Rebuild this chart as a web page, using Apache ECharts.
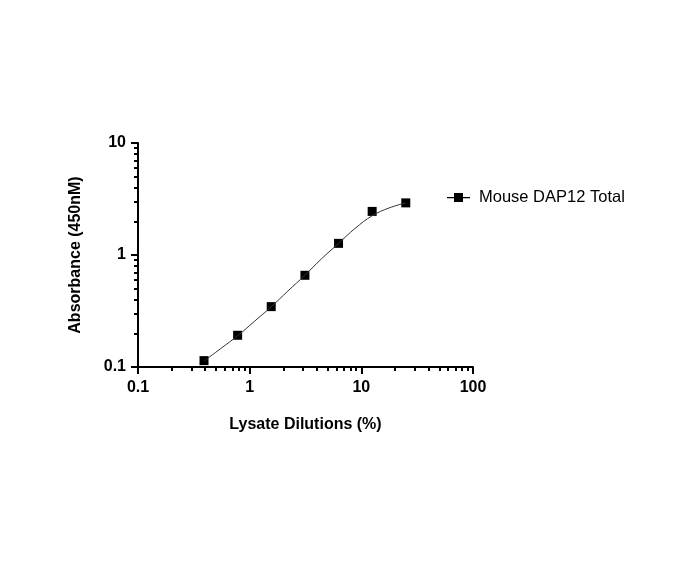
<!DOCTYPE html>
<html><head><meta charset="utf-8">
<script src="https://cdn.jsdelivr.net/npm/echarts@6/dist/echarts.min.js"></script>
<style>html,body{margin:0;padding:0;background:#fff}#c{width:696px;height:564px}</style>
</head><body><div id="c"></div>
<script>
// measured points
const dilutions = [0.39, 0.78, 1.56, 3.125, 6.25, 12.5, 25];
const absorbance = [0.114, 0.192, 0.346, 0.659, 1.27, 2.45, 2.92];
// fitted curve
const fitX = [0.39, 0.55, 0.78, 1.1, 1.56, 2.2, 3.125, 4.4, 6.25, 8.8, 12.5, 17.7, 25];
const fitY = [0.113, 0.146, 0.19, 0.255, 0.345, 0.477, 0.66, 0.925, 1.27, 1.73, 2.24, 2.63, 2.92];
const seriesName = 'Mouse DAP12 Total';
const xMinorTicks = [0.2,0.3,0.4,0.5,0.6,0.7,0.8,0.9,2,3,4,5,6,7,8,9,20,30,40,50,60,70,80,90];
const yMinorTicks = [0.2,0.3,0.4,0.5,0.6,0.7,0.8,0.9,2,3,4,5,6,7,8,9];

const font = 'Liberation Sans, Arial, sans-serif';
const chart = echarts.init(document.getElementById('c'));
const baseAxis = {type: 'log', logBase: 10, splitLine: {show:false}};
chart.setOption({
  animation: false,
  grid: {left: 138, right: 223, top: 143, bottom: 197},
  legend: {
    show: true, left: 442, top: 184, itemWidth: 23, itemHeight: 9,
    textStyle: {fontFamily: font, fontSize: 16.5, color: '#000', padding: [0, 0, 0, 4]},
    itemStyle: {color: '#000', opacity: 1},
    data: [{name: seriesName, icon: 'path://M0,4L23,4L23,5.3L0,5.3Z M7,0L16,0L16,9L7,9Z'}]
  },
  xAxis: [
    Object.assign({}, baseAxis, {
      min: 0.1, max: 100,
      name: 'Lysate Dilutions (%)', nameLocation: 'middle', nameGap: 50,
      nameTextStyle: {fontFamily: font, fontSize: 16, fontWeight: 'bold', color: '#000'},
      axisLine: {show: true, lineStyle: {color: '#000', width: 2}},
      axisTick: {show: true, inside: false, length: 7, lineStyle: {color: '#000', width: 2}},
      axisLabel: {fontFamily: font, fontSize: 16, fontWeight: 'bold', color: '#000', margin: 13,
        formatter: v => String(v)}
    }),
    Object.assign({}, baseAxis, {
      min: 0.1, max: 100, position: 'bottom',
      axisLine: {show: false},
      axisTick: {show: true, inside: false, length: 4, customValues: xMinorTicks, lineStyle: {color: '#000', width: 2}},
      axisLabel: {show: false}
    })
  ],
  yAxis: [
    Object.assign({}, baseAxis, {
      min: 0.1, max: 10,
      name: 'Absorbance (450nM)', nameLocation: 'middle', nameGap: 54,
      nameTextStyle: {fontFamily: font, fontSize: 16, fontWeight: 'bold', color: '#000'},
      axisLine: {show: true, lineStyle: {color: '#000', width: 2}},
      axisTick: {show: true, inside: false, length: 7, lineStyle: {color: '#000', width: 2}},
      axisLabel: {fontFamily: font, fontSize: 16, fontWeight: 'bold', color: '#000', margin: 12,
        formatter: v => String(v)}
    }),
    Object.assign({}, baseAxis, {
      min: 0.1, max: 10, position: 'left',
      axisLine: {show: false},
      axisTick: {show: true, inside: false, length: 4, customValues: yMinorTicks, lineStyle: {color: '#000', width: 2}},
      axisLabel: {show: false}
    })
  ],
  series: [{
    name: 'fit', type: 'line', smooth: 0.4, showSymbol: false, silent: true,
    data: fitX.map((d, i) => [d, fitY[i]]),
    lineStyle: {color: '#333', width: 1}
  }, {
    name: seriesName, type: 'scatter',
    data: dilutions.map((d, i) => [d, absorbance[i]]),
    symbol: 'rect', symbolSize: 9,
    itemStyle: {color: '#000', opacity: 1}
  }]
});
</script></body></html>
